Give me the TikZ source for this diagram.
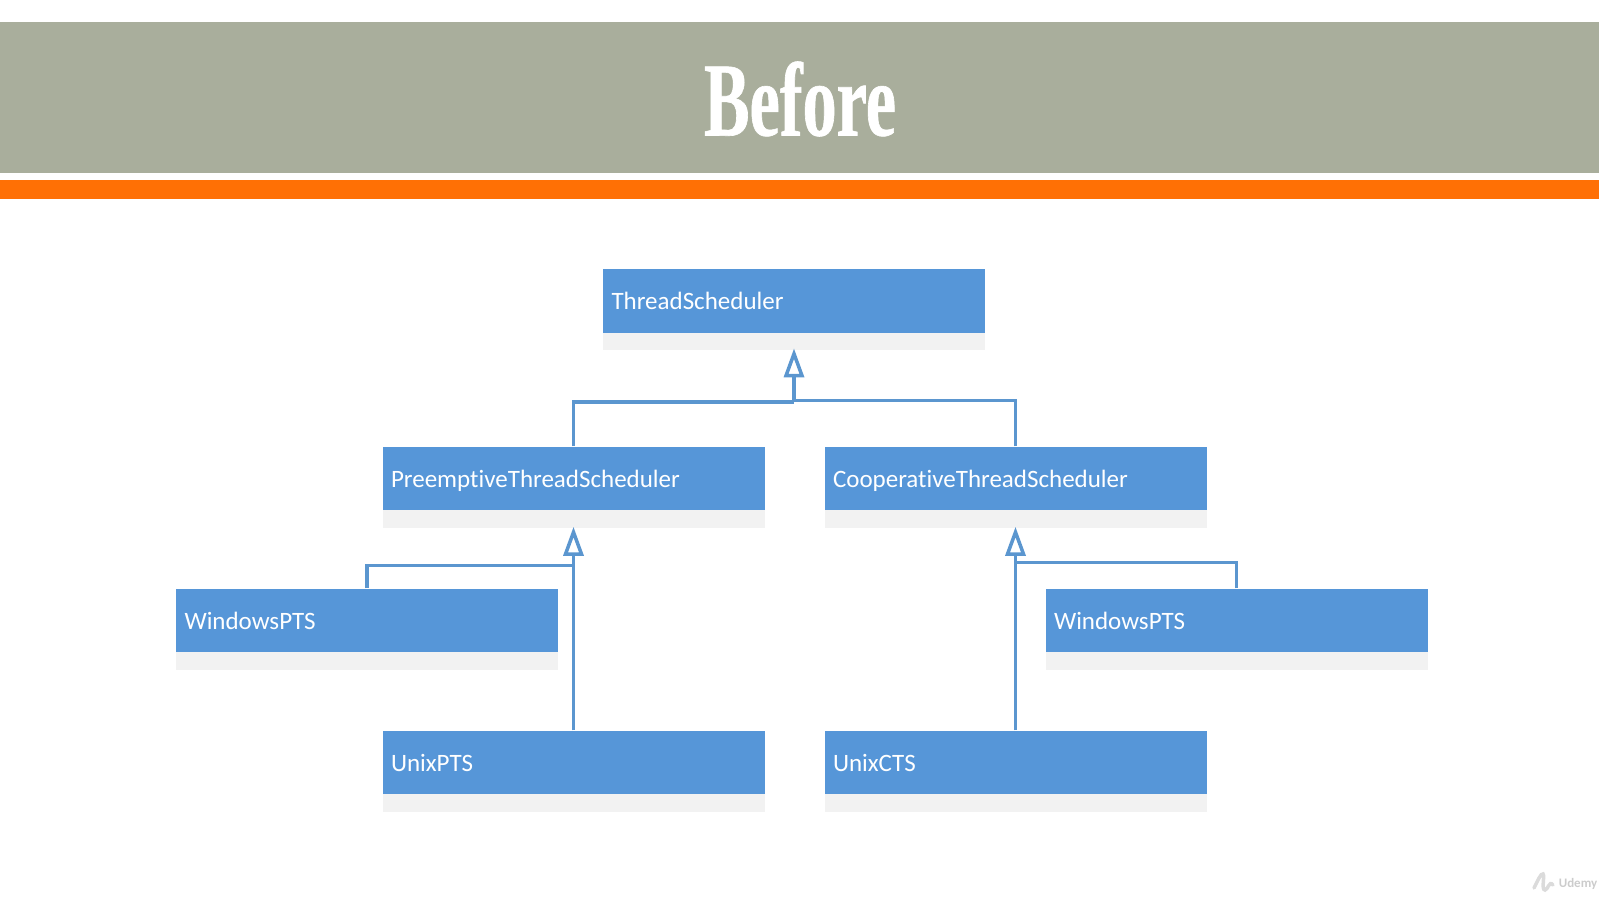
\documentclass[tikz,border=0pt]{standalone}
\usepackage{fontspec}
\setmainfont[Ligatures=NoCommon]{Carlito}
\newfontfamily\titlefont[FakeStretch=0.65, FakeBold=0.6]{Liberation Serif}
\usetikzlibrary{arrows.meta, positioning, shadows}
\definecolor{headgray}{HTML}{A9AE9C}
\definecolor{headorange}{HTML}{FF7005}
\definecolor{boxblue}{HTML}{5696D8}
\definecolor{lineblue}{HTML}{5B96CF}
\definecolor{shadegray}{HTML}{F2F2F2}

\begin{document}
\begin{tikzpicture}[x=1pt, y=1pt]
\tikzset{classbox/.style={rectangle, align=left, text width=365pt, text height=17.5pt, text depth=0pt, minimum height=63.5pt, inner xsep=8.5pt, inner ysep=0pt, fill=boxblue, text=white, font=\fontsize{25}{29}\selectfont, general shadow={fill=shadegray, shadow yshift=-17.5pt}},
		link/.style={draw=lineblue, line width=3.5pt},
		inherit/.style={link, -{Triangle[open, length=29pt, width=20pt, line width=3.5pt]}}}
\useasboundingbox (0,0) rectangle (1599,-899);
\fill[headgray] (0,-22.5) rectangle (1599,-173);
\fill[headorange] (0,-180) rectangle (1599,-199);
\node[text=white, font=\titlefont\bfseries\fontsize{105}{110}\selectfont] (title) at (800,-99) {Before};
\node[classbox] (TS) at (794,-301) {ThreadScheduler};
\node[classbox, below=113.5pt of TS, xshift=-220.5pt] (PT) {PreemptiveThreadScheduler};
\node[classbox, below=113.5pt of TS, xshift=221.5pt] (CT) {CooperativeThreadScheduler};
\node[classbox, below=78pt of PT, xshift=-206.5pt] (WP) {WindowsPTS};
\node[classbox, below=78pt of CT, xshift=221pt] (WC) {WindowsPTS};
\node[classbox, below=220pt of PT] (UP) {UnixPTS};
\node[classbox, below=220pt of CT] (UC) {UnixCTS};
\coordinate[below=15.5pt of TS.south] (TStip);
\coordinate[below=69pt of TS.south] (TSleft);
\coordinate[below=67.5pt of TS.south] (TSright);
\coordinate[below=16.5pt of PT.south] (PTtip);
\coordinate[below=55pt of PT.south] (PTjoin);
\coordinate[below=16.5pt of CT.south] (CTtip);
\coordinate[below=52pt of CT.south] (CTjoin);
\draw[inherit] (TSleft) -- (TStip);
\draw[link] (PT.north) |- (TSleft);
\draw[link] (CT.north) |- (TSright);
\draw[inherit] (UP.north) -- (PTtip);
\draw[link] (WP.north) |- (PTjoin);
\draw[inherit] (UC.north) -- (CTtip);
\draw[link] (WC.north) |- (CTjoin);
\node[text=black!20, font=\bfseries\fontsize{13}{15}\selectfont, inner sep=0pt] (brand) at (1578,-884) {Udemy};
\draw[black!14, line width=3.5pt, line cap=round] (1534,-888) .. controls (1538,-880) and (1541,-873) .. (1543,-874) .. controls (1545,-876) and (1541,-890) .. (1545,-890) .. controls (1548,-890) and (1549,-880) .. (1553,-885);
\end{tikzpicture}
\end{document}
